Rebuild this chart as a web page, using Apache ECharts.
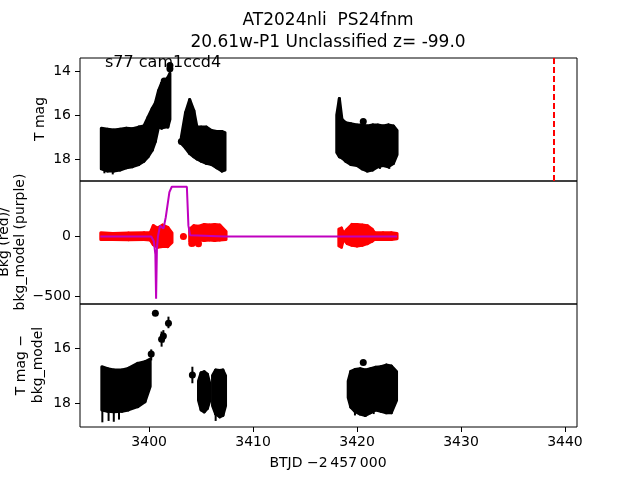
<!DOCTYPE html>
<html>
<head>
<meta charset="utf-8">
<script src="https://cdn.jsdelivr.net/npm/echarts@6/dist/echarts.min.js"></script>
<style>
  html, body { margin: 0; padding: 0; background: #fff; }
  #main { width: 640px; height: 480px; }
</style>
</head>
<body>
<div id="main"></div>
<script>
    // x = BTJD - 2457000
    const xTicks = [3400, 3410, 3420, 3430, 3440];
    const magTicksTop = [14, 16, 18];
    const bkgTicks = [-500, 0];
    const magTicksBot = [16, 18];
    const vlineT = 3438.9;

    // panel 1: T mag, point cloud outline (top = hi, bottom = lo)
    const tA = [3395.4, 3396.0, 3396.6, 3397.2, 3397.8, 3398.4, 3399.0, 3399.5, 3399.9, 3400.3, 3400.6, 3400.9, 3401.2, 3401.5, 3401.8, 3402.0];
    const hiA = [16.6, 16.65, 16.68, 16.65, 16.6, 16.62, 16.55, 16.5, 16.1, 15.7, 15.45, 14.9, 14.55, 14.45, 14.3, 14.1];
    const loA = [18.45, 18.55, 18.55, 18.5, 18.4, 18.35, 18.25, 18.1, 17.9, 17.6, 17.2, 16.55, 16.6, 16.55, 16.55, 16.2];
    const tB = [3403.1, 3403.5, 3403.9, 3404.3, 3404.6, 3405.0, 3405.5, 3406.0, 3406.5, 3407.0, 3407.3];
    const hiB = [17.0, 15.9, 15.3, 15.8, 16.55, 16.55, 16.55, 16.7, 16.75, 16.75, 16.8];
    const loB = [17.3, 17.5, 17.75, 17.9, 18.0, 18.1, 18.2, 18.25, 18.4, 18.55, 18.5];
    const tC = [3418.05, 3418.3, 3418.55, 3418.9, 3419.4, 3420.0, 3420.5, 3421.0, 3421.5, 3422.0, 3422.5, 3423.0, 3423.5, 3423.85];
    const hiC = [16.0, 15.25, 16.2, 16.35, 16.4, 16.45, 16.45, 16.5, 16.45, 16.45, 16.5, 16.45, 16.5, 16.7];
    const loC = [17.7, 17.9, 17.95, 18.1, 18.25, 18.3, 18.45, 18.55, 18.5, 18.35, 18.3, 18.35, 18.2, 17.8];
    const ptsTop = [[3402.0, 13.75], [3402.0, 13.9], [3401.45, 14.45], [3403.1, 17.2], [3420.6, 16.3]];
    const errTop = [[3396.5, 18.3, 18.7], [3395.7, 18.3, 18.65], [3422.2, 18.2, 18.45], [3423.1, 18.2, 18.45]];

    // panel 2: background (red) and background model (purple)
    const tRA = [3395.35, 3396.5, 3398.0, 3399.5, 3400.1, 3400.4, 3400.8, 3401.3, 3401.8, 3402.2];
    const hiRA = [30, 25, 28, 30, 30, 90, 70, 95, 75, 30];
    const loRA = [-25, -25, -28, -25, -30, -70, -90, -85, -85, -50];
    const tRB = [3403.9, 3404.3, 3404.8, 3405.3, 3405.8, 3406.3, 3406.8, 3407.4];
    const hiRB = [60, 90, 85, 100, 95, 100, 95, 40];
    const loRB = [-40, -70, -30, -35, -30, -35, -30, -25];
    const tRC = [3418.25, 3418.5, 3418.7, 3419.05, 3419.5, 3420.0, 3420.5, 3421.0, 3421.45, 3421.7, 3422.5, 3423.3, 3423.85];
    const hiRC = [60, 70, 25, 60, 100, 100, 95, 90, 60, 30, 30, 30, 25];
    const loRC = [-80, -90, -25, -60, -75, -80, -75, -60, -40, -25, -25, -25, -20];
    const ptsBkg = [[3403.3, 0], [3404.1, -60], [3404.75, -62]];
    const modelT = [3395.3, 3400.2, 3400.45, 3400.6, 3400.67, 3400.75, 3400.85, 3401.05, 3401.22, 3401.38, 3401.6, 3401.76, 3401.95, 3402.18, 3403.63, 3403.78, 3403.94, 3407.3, 3418.0, 3423.85];
    const modelV = [0, 0, -40, -150, -520, -100, 0, 90, 105, 65, 160, 175, 370, 415, 415, 90, 10, 0, 0, 0];

    // panel 3: T mag - bkg_model
    const tD = [3395.45, 3396.0, 3396.6, 3397.4, 3398.0, 3398.9, 3399.6, 3400.1];
    const hiD = [16.68, 16.75, 16.8, 16.8, 16.74, 16.56, 16.5, 16.4];
    const loD = [18.25, 18.3, 18.32, 18.3, 18.25, 18.13, 17.95, 17.4];
    const tE = [3404.75, 3405.0, 3405.3, 3405.6, 3405.85];
    const hiE = [17.2, 16.9, 16.86, 16.95, 17.3];
    const loE = [17.9, 18.25, 18.32, 18.2, 17.9];
    const tF = [3406.1, 3406.4, 3406.8, 3407.1, 3407.35];
    const hiF = [17.0, 16.8, 16.82, 16.8, 17.0];
    const loF = [18.1, 18.4, 18.5, 18.45, 18.1];
    const tG = [3419.15, 3419.4, 3419.8, 3420.3, 3420.8, 3421.3, 3421.8, 3422.3, 3422.8, 3423.3, 3423.8];
    const hiG = [17.2, 16.85, 16.78, 16.75, 16.8, 16.75, 16.7, 16.68, 16.62, 16.65, 16.85];
    const loG = [17.8, 18.15, 18.3, 18.4, 18.45, 18.35, 18.25, 18.3, 18.35, 18.35, 17.9];
    const ptsBot = [[3400.2, 16.22], [3400.6, 14.74], [3401.2, 15.68], [3401.37, 15.56], [3401.86, 15.1], [3404.16, 16.98], [3420.6, 16.53]];
    const errBot = [[3400.2, 16.05, 16.45], [3401.2, 15.4, 15.95], [3401.37, 15.35, 15.8], [3401.86, 14.86, 15.28], [3404.16, 16.68, 17.28],
        [3395.5, 18.1, 18.7], [3396.1, 18.1, 18.65], [3396.6, 18.1, 18.68], [3397.1, 18.1, 18.6], [3406.4, 18.2, 18.65],
        [3419.8, 18.1, 18.45], [3421.6, 18.1, 18.4], [3422.9, 18.1, 18.4]];

    const font = 'DejaVu Sans';
    const minus = (v) => v < 0 ? '\u2212' + Math.abs(v) : String(v);

    // dense cloud of points -> filled outline between hi and lo
    function blobSeries(t, hi, lo, idx, color) {
        return {
            type: 'custom',
            xAxisIndex: idx,
            yAxisIndex: idx,
            silent: true,
            data: t.map((v, i) => [v, hi[i], lo[i]]),
            renderItem: function (params, api) {
                let i = params.dataIndex;
                if (i >= t.length - 1) return null;
                let pts = [
                    api.coord([t[i], hi[i]]),
                    api.coord([t[i + 1], hi[i + 1]]),
                    api.coord([t[i + 1], lo[i + 1]]),
                    api.coord([t[i], lo[i]])
                ];
                return {
                    type: 'polygon',
                    shape: { points: pts },
                    style: { fill: color, stroke: color, lineWidth: 3, lineJoin: 'round' }
                };
            }
        };
    }

    function errSeries(data, idx, color) {
        return {
            type: 'custom',
            xAxisIndex: idx,
            yAxisIndex: idx,
            silent: true,
            data: data,
            renderItem: function (params, api) {
                let a = api.coord([api.value(0), api.value(1)]);
                let b = api.coord([api.value(0), api.value(2)]);
                return {
                    type: 'line',
                    shape: { x1: a[0], y1: a[1], x2: b[0], y2: b[1] },
                    style: { stroke: color, lineWidth: 2 }
                };
            }
        };
    }

    function dotSeries(data, idx, color) {
        return {
            type: 'scatter',
            xAxisIndex: idx,
            yAxisIndex: idx,
            silent: true,
            symbolSize: 7,
            itemStyle: { color: color, opacity: 1 },
            data: data
        };
    }

    const grids = [58, 181, 304].map(top => ({
        left: 80, right: 63, top: top, height: 123,
        show: true, borderColor: '#000', borderWidth: 1, backgroundColor: 'transparent'
    }));

    const xAxes = [0, 1, 2].map(i => ({
        type: 'value',
        gridIndex: i,
        min: 3393.35,
        max: 3441.16,
        axisLine: { show: false },
        splitLine: { show: false },
        axisTick: { show: i === 2, length: 5, customValues: xTicks, lineStyle: { color: '#000' } },
        axisLabel: { show: i === 2, customValues: xTicks, color: '#000', fontFamily: font, fontSize: 14, margin: 8, formatter: (v) => String(v) }
    }));

    function yAxis(i, min, max, ticks, inverse) {
        return {
            type: 'value',
            gridIndex: i,
            min: min,
            max: max,
            inverse: inverse,
            axisLine: { show: false },
            splitLine: { show: false },
            axisTick: { show: true, length: 5, customValues: ticks, lineStyle: { color: '#000' } },
            axisLabel: { customValues: ticks, color: '#000', fontFamily: font, fontSize: 14, margin: 9, formatter: minus }
        };
    }

    var myChart = echarts.init(document.getElementById('main'));
    let option = {
        backgroundColor: '#fff',
        animation: false,
        title: {
            text: 'AT2024nli  PS24fnm\n20.61w-P1 Unclassified z= -99.0',
            left: 328,
            top: 10,
            textAlign: 'center',
            padding: 0,
            textStyle: { fontFamily: font, fontSize: 17, fontWeight: 'normal', color: '#000', lineHeight: 22 }
        },
        grid: grids,
        xAxis: xAxes,
        yAxis: [
            yAxis(0, 13.41, 19.0, magTicksTop, true),
            yAxis(1, -565, 463, bkgTicks, false),
            yAxis(2, 14.4, 18.87, magTicksBot, true)
        ],
        graphic: [
            { type: 'text', left: 105, top: 55, style: { text: 's77 cam1ccd4', fontFamily: font, fontSize: 16, fill: '#000' } },
            { type: 'text', x: 40, y: 119, rotation: Math.PI / 2, style: { text: 'T mag', fontFamily: font, fontSize: 14, fill: '#000', align: 'center', verticalAlign: 'middle' } },
            { type: 'text', x: 12, y: 242, rotation: Math.PI / 2, style: { text: 'Bkg (red)/\nbkg_model (purple)', fontFamily: font, fontSize: 14, lineHeight: 16, fill: '#000', align: 'center', verticalAlign: 'middle' } },
            { type: 'text', x: 30, y: 365, rotation: Math.PI / 2, style: { text: 'T mag \u2212\nbkg_model', fontFamily: font, fontSize: 14, lineHeight: 17, fill: '#000', align: 'center', verticalAlign: 'middle' } },
            { type: 'text', x: 328, y: 463, style: { text: 'BTJD \u22122\u2009457\u2009000', fontFamily: font, fontSize: 14, fill: '#000', align: 'center', verticalAlign: 'middle' } }
        ],
        series: [
            blobSeries(tA, hiA, loA, 0, '#000'),
            blobSeries(tB, hiB, loB, 0, '#000'),
            blobSeries(tC, hiC, loC, 0, '#000'),
            errSeries(errTop, 0, '#000'),
            Object.assign(dotSeries(ptsTop, 0, '#000'), {
                markLine: {
                    silent: true,
                    symbol: 'none',
                    label: { show: false },
                    lineStyle: { color: '#ff0000', width: 2, type: [6, 3] },
                    data: [{ xAxis: vlineT }]
                }
            }),

            blobSeries(tRA, hiRA, loRA, 1, '#ff0000'),
            blobSeries(tRB, hiRB, loRB, 1, '#ff0000'),
            blobSeries(tRC, hiRC, loRC, 1, '#ff0000'),
            dotSeries(ptsBkg, 1, '#ff0000'),
            {
                type: 'line',
                xAxisIndex: 1,
                yAxisIndex: 1,
                silent: true,
                showSymbol: false,
                lineStyle: { color: '#bf00bf', width: 2 },
                data: modelT.map((t, i) => [t, modelV[i]])
            },

            blobSeries(tD, hiD, loD, 2, '#000'),
            blobSeries(tE, hiE, loE, 2, '#000'),
            blobSeries(tF, hiF, loF, 2, '#000'),
            blobSeries(tG, hiG, loG, 2, '#000'),
            errSeries(errBot, 2, '#000'),
            dotSeries(ptsBot, 2, '#000')
        ]
    };
    myChart.setOption(option);
</script>
</body>
</html>
